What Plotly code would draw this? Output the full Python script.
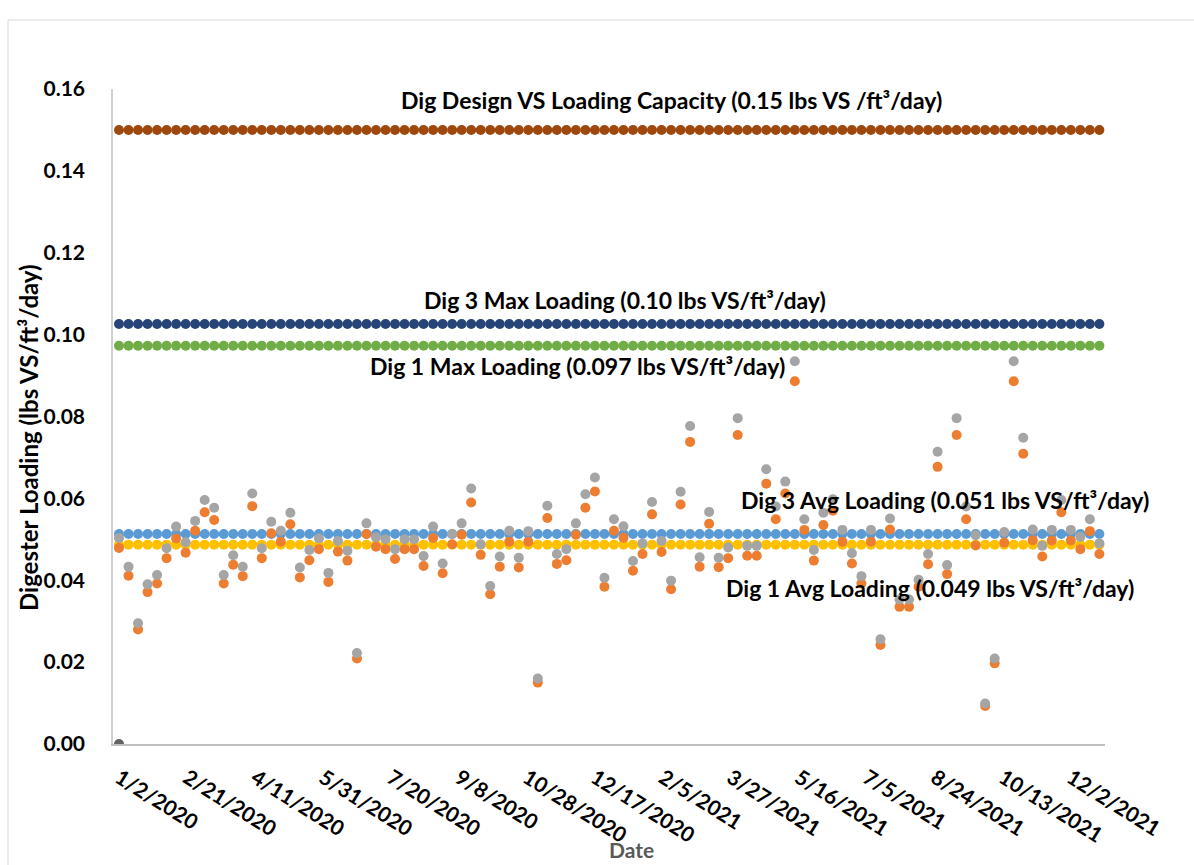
import pandas as pd
import plotly.graph_objects as go

# Weekly sampling dates (Thursdays), 1/2/2020 through 12/23/2021
dates = pd.date_range("2020-01-02", periods=104, freq="7D")

# Weekly digester loading, lbs VS/ft3/day
dig3_loading = [
    0.0503, 0.0433, 0.0295, 0.0390, 0.0413, 0.0478, 0.0531, 0.0493, 0.0545, 0.0596,
    0.0577, 0.0413, 0.0461, 0.0433, 0.0612, 0.0478, 0.0543, 0.0521, 0.0565, 0.0431,
    0.0474, 0.0502, 0.0418, 0.0496, 0.0472, 0.0222, 0.0539, 0.0505, 0.0500, 0.0476,
    0.0500, 0.0500, 0.0459, 0.0531, 0.0441, 0.0513, 0.0539, 0.0624, 0.0488, 0.0386,
    0.0458, 0.0521, 0.0455, 0.0520, 0.0160, 0.0582, 0.0464, 0.0476, 0.0539, 0.0610,
    0.0651, 0.0406, 0.0549, 0.0532, 0.0447, 0.0490, 0.0591, 0.0496, 0.0399, 0.0616,
    0.0777, 0.0456, 0.0567, 0.0455, 0.0480, 0.0796, 0.0484, 0.0484, 0.0671, 0.0580,
    0.0641, 0.0935, 0.0549, 0.0474, 0.0565, 0.0598, 0.0523, 0.0466, 0.0410, 0.0523,
    0.0256, 0.0551, 0.0353, 0.0353, 0.0401, 0.0464, 0.0714, 0.0437, 0.0796, 0.0580,
    0.0510, 0.0099, 0.0209, 0.0518, 0.0935, 0.0748, 0.0524, 0.0484, 0.0523, 0.0596,
    0.0523, 0.0506, 0.0549, 0.0490,
]
dig1_loading = [
    0.0479, 0.0411, 0.0280, 0.0371, 0.0392, 0.0454, 0.0502, 0.0467, 0.0521, 0.0566,
    0.0547, 0.0392, 0.0438, 0.0410, 0.0581, 0.0454, 0.0515, 0.0494, 0.0537, 0.0407,
    0.0449, 0.0476, 0.0396, 0.0470, 0.0448, 0.0209, 0.0513, 0.0482, 0.0476, 0.0452,
    0.0476, 0.0476, 0.0435, 0.0503, 0.0417, 0.0488, 0.0511, 0.0590, 0.0462, 0.0366,
    0.0433, 0.0494, 0.0431, 0.0494, 0.0150, 0.0552, 0.0440, 0.0449, 0.0511, 0.0577,
    0.0617, 0.0384, 0.0521, 0.0504, 0.0423, 0.0464, 0.0561, 0.0469, 0.0378, 0.0585,
    0.0738, 0.0433, 0.0538, 0.0432, 0.0454, 0.0755, 0.0460, 0.0460, 0.0636, 0.0549,
    0.0612, 0.0886, 0.0523, 0.0448, 0.0535, 0.0570, 0.0494, 0.0441, 0.0392, 0.0494,
    0.0242, 0.0524, 0.0335, 0.0335, 0.0384, 0.0439, 0.0677, 0.0415, 0.0755, 0.0549,
    0.0485, 0.0093, 0.0197, 0.0492, 0.0886, 0.0709, 0.0498, 0.0458, 0.0497, 0.0566,
    0.0497, 0.0476, 0.0520, 0.0464,
]
# Single reading for the third series (first week only)
dig2_loading = [0.0]

# Reference levels, lbs VS/ft3/day
design_capacity = 0.15
dig3_max = 0.1026
dig1_max = 0.0973
dig3_avg = 0.0513
dig1_avg = 0.0487

tick_labels = [
    "1/2/2020", "2/21/2020", "4/11/2020", "5/31/2020", "7/20/2020", "9/8/2020",
    "10/28/2020", "12/17/2020", "2/5/2021", "3/27/2021", "5/16/2021", "7/5/2021",
    "8/24/2021", "10/13/2021", "12/2/2021",
]
y_ticks = [0.00, 0.02, 0.04, 0.06, 0.08, 0.10, 0.12, 0.14, 0.16]

FONT = "Lato"
W, H = 1194, 865
L, R, T, B = 113, 89, 89, 121
PW, PH = W - L - R, H - T - B

fig = go.Figure()


def level(value, color):
    fig.add_trace(go.Scatter(
        x=dates, y=[value] * len(dates), mode="markers",
        marker=dict(size=10, color=color, line=dict(width=0)),
        showlegend=False, hoverinfo="skip"))


level(design_capacity, "#9E480E")
level(dig3_max, "#264478")
level(dig1_max, "#70AD47")
level(dig3_avg, "#5B9BD5")
level(dig1_avg, "#FFC000")

fig.add_trace(go.Scatter(x=dates[:len(dig2_loading)], y=dig2_loading, mode="markers",
                         marker=dict(size=10, color="#636363"), showlegend=False))
fig.add_trace(go.Scatter(x=dates, y=dig1_loading, mode="markers",
                         marker=dict(size=10, color="#ED7D31"), showlegend=False))
fig.add_trace(go.Scatter(x=dates, y=dig3_loading, mode="markers",
                         marker=dict(size=10, color="#A5A5A5"), showlegend=False))


def px_x(px):
    return (px - L) / PW


def px_y(py):
    return (H - B - py) / PH


def note(text, cx, cy, size=23, color="black", angle=0):
    fig.add_annotation(text=f"<b>{text}</b>", xref="paper", yref="paper",
                       x=px_x(cx), y=px_y(cy), xanchor="center", yanchor="middle",
                       showarrow=False, textangle=angle,
                       font=dict(family=FONT, size=size, color=color))


note(f"Dig Design VS Loading Capacity ({design_capacity:.2f} lbs VS /ft³/day)", 671, 100)
note(f"Dig 3 Max Loading ({dig3_max:.2f} lbs VS/ft³/day)", 625, 300)
note(f"Dig 1 Max Loading ({dig1_max:.3f} lbs VS/ft³/day)", 577, 366)
note(f"Dig 3 Avg Loading ({dig3_avg:.3f} lbs VS/ft³/day)", 945, 500)
note(f"Dig 1 Avg Loading ({dig1_avg:.3f} lbs VS/ft³/day)", 930, 588)
note("Digester Loading (lbs VS/ft³/day)", 29, 438, size=24, angle=-90)
note("Date", 631, 849, size=21, color="#595959")

tick_vals = [pd.to_datetime(t, format="%m/%d/%Y") for t in tick_labels]

fig.update_layout(
    width=W, height=H,
    margin=dict(l=L, r=R, t=T, b=B),
    paper_bgcolor="white", plot_bgcolor="white",
    font=dict(family=FONT, color="black"),
    xaxis=dict(
        range=["2019-12-28 14:00", "2021-12-27 03:00"],
        tickmode="array", tickvals=tick_vals, ticktext=tick_labels,
        tickangle=32, tickfont=dict(family=FONT, size=21, weight="bold", color="black"),
        showgrid=False, zeroline=False, showline=True, linecolor="#BFBFBF", linewidth=1.5,
        ticks="", ticklabelstandoff=12,
    ),
    yaxis=dict(
        range=[0, 0.16], tickmode="array", tickvals=y_ticks,
        ticktext=[f"{v:.2f}" for v in y_ticks],
        tickfont=dict(family=FONT, size=21, weight="bold", color="black"),
        showgrid=False, zeroline=False, showline=True, linecolor="#D0D0D0", linewidth=1.5,
        ticks="", ticklabelstandoff=22,
    ),
    shapes=[dict(type="rect", xref="paper", yref="paper",
                 x0=px_x(8), x1=px_x(1300), y0=px_y(1000), y1=px_y(20),
                 line=dict(color="#D9D9D9", width=1))],
)

fig.write_html("out.html")
